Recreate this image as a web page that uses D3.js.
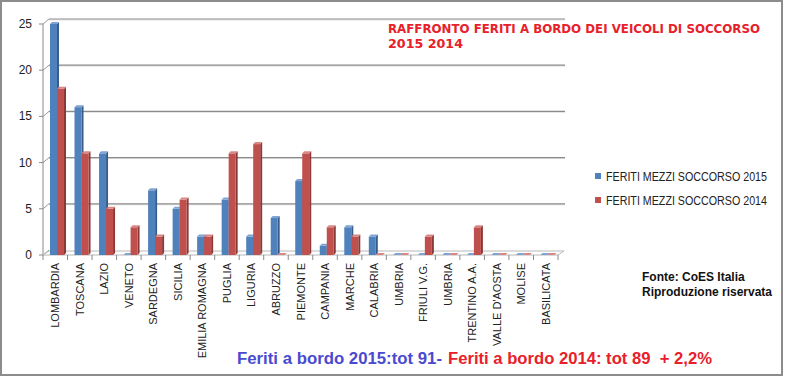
<!DOCTYPE html>
<html>
<head>
<meta charset="utf-8">
<script src="https://cdn.jsdelivr.net/npm/d3@7"></script>
<style>
  body { margin: 0; background: #fff; }
  svg { display: block; }
</style>
</head>
<body>
<div id="chart"></div>
<script>
const regioni = ["LOMBARDIA", "TOSCANA", "LAZIO", "VENETO", "SARDEGNA", "SICILIA", "EMILIA ROMAGNA",
  "PUGLIA", "LIGURIA", "ABRUZZO", "PIEMONTE", "CAMPANIA", "MARCHE", "CALABRIA", "UMBRIA",
  "FRIULI V.G.", "UMBRIA", "TRENTINO A.A.", "VALLE D'AOSTA", "MOLISE", "BASILICATA"];
const feriti2015 = [25, 16, 11, 0, 7, 5, 2, 6, 2, 4, 8, 1, 3, 2, 0, 0, 0, 0, 0, 0, 0];
const feriti2014 = [18, 11, 5, 3, 2, 6, 2, 11, 12, 0, 11, 3, 2, 0, 0, 2, 0, 3, 0, 0, 0];
const yTicks = [0, 5, 10, 15, 20, 25];
const serie = ["FERITI MEZZI SOCCORSO 2015", "FERITI MEZZI SOCCORSO 2014"];

const width = 809, height = 376;
const depth = { dx: 6, dy: -5 };   // back wall offset
const barDepth = { dx: 2, dy: -2 };

const colori = [
  { front: "#4f81bd", side: "#385d8a", top: "#7ea3d4" },
  { front: "#c0504d", side: "#8c3836", top: "#d98784" }
];

const svg = d3.select("#chart").append("svg")
  .attr("width", width)
  .attr("height", height);

// cornice
svg.append("rect")
  .attr("x", 1).attr("y", 1)
  .attr("width", 781).attr("height", 374)
  .attr("fill", "#fff")
  .attr("stroke", "#8c8c8c")
  .attr("stroke-width", 2);

const x = d3.scaleBand()
  .domain(d3.range(regioni.length))
  .range([43, 558]);

const x1 = d3.scaleBand()
  .domain([0, 1])
  .range([7, 21]);

const y = d3.scaleLinear()
  .domain([0, 25])
  .range([255, 24]);

// griglia sulla parete di fondo
const grid = svg.append("g");
yTicks.forEach(t => {
  if (t > 0) {
    grid.append("line")
      .attr("x1", 43 + depth.dx).attr("x2", 565)
      .attr("y1", y(t) + depth.dy + 1).attr("y2", y(t) + depth.dy + 1)
      .attr("stroke", "#e2e2e2").attr("stroke-width", 1);
    grid.append("line")
      .attr("x1", 43 + depth.dx).attr("x2", 565)
      .attr("y1", y(t) + depth.dy).attr("y2", y(t) + depth.dy)
      .attr("stroke", "#8a8a8a").attr("stroke-width", 1.2);
  }
  grid.append("line")
    .attr("x1", 43).attr("x2", 43 + depth.dx)
    .attr("y1", y(t)).attr("y2", y(t) + depth.dy)
    .attr("stroke", "#9a9a9a");
  grid.append("line")
    .attr("x1", 39).attr("x2", 43)
    .attr("y1", y(t)).attr("y2", y(t))
    .attr("stroke", "#8a8a8a");
});

// asse verticale
svg.append("line")
  .attr("x1", 43).attr("x2", 43)
  .attr("y1", y(25)).attr("y2", y(0))
  .attr("stroke", "#8a8a8a");

svg.append("g")
  .selectAll("text")
  .data(yTicks)
  .enter()
  .append("text")
  .attr("x", 32)
  .attr("y", d => y(d) + 4)
  .attr("text-anchor", "end")
  .style("font-family", "'Liberation Sans', Arial, sans-serif")
  .style("font-size", "12px")
  .style("fill", "#222")
  .text(d => d);

// pavimento
svg.append("polygon")
  .attr("points", [
    [43, y(0)], [558, y(0)], [558 + depth.dx, y(0) + depth.dy + 1], [43 + depth.dx, y(0) + depth.dy + 1]
  ].map(p => p.join(",")).join(" "))
  .attr("fill", "#fff")
  .attr("stroke", "#b8b8b8");

// tacche asse x
svg.append("g")
  .selectAll("line")
  .data(d3.range(regioni.length + 1))
  .enter()
  .append("line")
  .attr("x1", d => 43 + d * x.bandwidth())
  .attr("x2", d => 43 + d * x.bandwidth())
  .attr("y1", y(0))
  .attr("y2", y(0) + 5)
  .attr("stroke", "#8a8a8a");

// barre 3D
const dati = [];
regioni.forEach((r, i) => {
  dati.push({ i, s: 0, v: feriti2015[i] });
  dati.push({ i, s: 1, v: feriti2014[i] });
});

const bars = svg.append("g")
  .selectAll("g")
  .data(dati)
  .enter()
  .append("g");

bars.each(function (d) {
  const g = d3.select(this);
  const x0 = x(d.i) + x1(d.s);
  const w = x1.bandwidth();
  const yt = y(d.v);
  const yb = y(0);
  const c = colori[d.s];
  // lato
  g.append("polygon")
    .attr("points", [[x0 + w, yt], [x0 + w + barDepth.dx, yt + barDepth.dy],
      [x0 + w + barDepth.dx, yb + barDepth.dy], [x0 + w, yb]].map(p => p.join(",")).join(" "))
    .attr("fill", c.side);
  // fronte
  g.append("rect")
    .attr("x", x0)
    .attr("y", yt)
    .attr("width", w)
    .attr("height", yb - yt)
    .attr("fill", c.front);
  // cima
  g.append("polygon")
    .attr("points", [[x0, yt], [x0 + barDepth.dx, yt + barDepth.dy],
      [x0 + w + barDepth.dx, yt + barDepth.dy], [x0 + w, yt]].map(p => p.join(",")).join(" "))
    .attr("fill", c.top);
});

// etichette regioni
svg.append("g")
  .selectAll("text")
  .data(regioni)
  .enter()
  .append("text")
  .attr("transform", (d, i) => `translate(${x(i) + x.bandwidth() / 2 + 4},263) rotate(-90)`)
  .attr("text-anchor", "end")
  .style("font-family", "'Liberation Sans', Arial, sans-serif")
  .style("font-size", "11px")
  .style("fill", "#222")
  .text(d => d);

// titolo
const titolo = svg.append("text")
  .style("font-family", "'DejaVu Sans', sans-serif")
  .style("font-size", "11.5px")
  .style("font-weight", "bold")
  .style("fill", "#e8202a");
titolo.append("tspan")
  .attr("x", 388).attr("y", 33)
  .attr("textLength", 372)
  .attr("lengthAdjust", "spacingAndGlyphs")
  .text("RAFFRONTO FERITI A BORDO DEI VEICOLI DI SOCCORSO");
titolo.append("tspan")
  .attr("x", 388).attr("y", 48)
  .attr("textLength", 75)
  .attr("lengthAdjust", "spacingAndGlyphs")
  .text("2015 2014");

// legenda
const legenda = svg.append("g")
  .selectAll("g")
  .data(serie)
  .enter()
  .append("g")
  .attr("transform", (d, i) => `translate(595,${176 + i * 24})`);
legenda.append("rect")
  .attr("x", 0).attr("y", -3)
  .attr("width", 6).attr("height", 6)
  .attr("fill", (d, i) => colori[i].front);
legenda.append("text")
  .attr("x", 11).attr("y", 4.5)
  .attr("textLength", 161)
  .attr("lengthAdjust", "spacingAndGlyphs")
  .style("font-family", "'Liberation Sans', sans-serif")
  .style("font-size", "12px")
  .style("fill", "#222")
  .text(d => d);

// fonte
const fonte = svg.append("text")
  .style("font-family", "'Liberation Sans', Arial, sans-serif")
  .style("font-size", "12px")
  .style("font-weight", "bold")
  .style("fill", "#111");
fonte.append("tspan").attr("x", 642).attr("y", 281).text("Fonte: CoES Italia");
fonte.append("tspan").attr("x", 642).attr("y", 296).text("Riproduzione riservata");

// totali
const stileTot = sel => sel
  .style("font-family", "'Liberation Sans', Arial, sans-serif")
  .style("font-size", "16px")
  .style("font-weight", "bold")
  .attr("lengthAdjust", "spacingAndGlyphs");
svg.append("text")
  .attr("x", 237).attr("y", 364)
  .attr("textLength", 205)
  .call(stileTot)
  .style("fill", "#4a4ad0")
  .text("Feriti a bordo 2015:tot 91-");
svg.append("text")
  .attr("x", 448).attr("y", 364)
  .attr("textLength", 264)
  .call(stileTot)
  .style("fill", "#e8202a")
  .style("white-space", "pre")
  .text("Feriti a bordo 2014: tot 89  + 2,2%");
</script>
</body>
</html>
